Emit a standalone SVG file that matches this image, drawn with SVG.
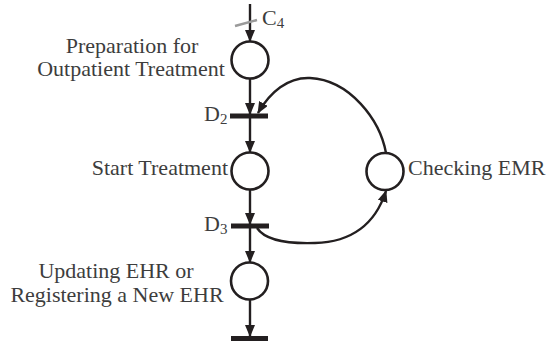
<svg xmlns="http://www.w3.org/2000/svg" width="548" height="344" viewBox="0 0 548 344">
  <style>
    .place { fill: #ffffff; stroke: #231f20; stroke-width: 2.6; }
    .bar { fill: #231f20; }
    .arc { fill: none; stroke: #231f20; stroke-width: 2.4; }
    .lbl { font-family: "Liberation Serif", "Times New Roman", serif; font-size: 22px; fill: #3d3d3d; }
    .sub { font-size: 15px; }
  </style>
  <defs>
    <marker id="ah" viewBox="0 0 12 10" refX="11" refY="5" markerWidth="12" markerHeight="10" markerUnits="userSpaceOnUse" orient="auto">
      <path d="M0,0 L12,5 L0,10 z" fill="#231f20"/>
    </marker>
  </defs>
  <rect width="548" height="344" fill="#ffffff"/>

  <!-- arcs between places and transitions -->
  <g id="connectors">
    <line class="arc" x1="250" y1="4" x2="250" y2="41" marker-end="url(#ah)"/>
    <line class="arc" x1="250" y1="79" x2="250" y2="114" marker-end="url(#ah)"/>
    <line class="arc" x1="250" y1="114" x2="250" y2="152" marker-end="url(#ah)"/>
    <line class="arc" x1="250" y1="190" x2="250" y2="224" marker-end="url(#ah)"/>
    <line class="arc" x1="250" y1="224" x2="250" y2="262" marker-end="url(#ah)"/>
    <line class="arc" x1="250" y1="300" x2="250" y2="336" marker-end="url(#ah)"/>
    <path class="arc" d="M386,153 C380,120 350,80 310,78 C288,77 270,92 258,113" marker-end="url(#ah)"/>
    <path class="arc" d="M257,228 C265,240 285,244 315,243 C350,242 375,225 386,191" marker-end="url(#ah)"/>
    <!-- inhibitor tick on the incoming arc -->
    <line x1="235" y1="26" x2="257" y2="20" stroke="#9a9a9a" stroke-width="2.6"/>
  </g>

  <g id="c4">
    <text class="lbl" x="262" y="25" fill="#666">C<tspan class="sub" dy="3">4</tspan></text>
  </g>

  <g id="preparation">
    <circle class="place" cx="250" cy="60" r="18.5"/>
    <text class="lbl" x="132" y="53" text-anchor="middle">Preparation for</text>
    <text class="lbl" x="131" y="76" text-anchor="middle">Outpatient Treatment</text>
  </g>

  <g id="d2">
    <rect class="bar" x="230" y="113.5" width="38" height="5"/>
    <text class="lbl" x="204" y="121">D<tspan class="sub" dy="3">2</tspan></text>
  </g>

  <g id="start-treatment">
    <circle class="place" cx="250" cy="171" r="18.5"/>
    <text class="lbl" x="228" y="175" text-anchor="end">Start Treatment</text>
  </g>

  <g id="d3">
    <rect class="bar" x="231" y="223.5" width="38" height="5"/>
    <text class="lbl" x="204" y="231">D<tspan class="sub" dy="3">3</tspan></text>
  </g>

  <g id="checking-emr">
    <circle class="place" cx="385" cy="171.5" r="18.5"/>
    <text class="lbl" x="408" y="175">Checking EMR</text>
  </g>

  <g id="updating-ehr">
    <circle class="place" cx="249.5" cy="281" r="18.5"/>
    <text class="lbl" x="116" y="278" text-anchor="middle">Updating EHR or</text>
    <text class="lbl" x="117" y="302" text-anchor="middle">Registering a New EHR</text>
  </g>

  <g id="end-transition">
    <rect class="bar" x="231" y="336" width="37" height="5"/>
  </g>
</svg>
